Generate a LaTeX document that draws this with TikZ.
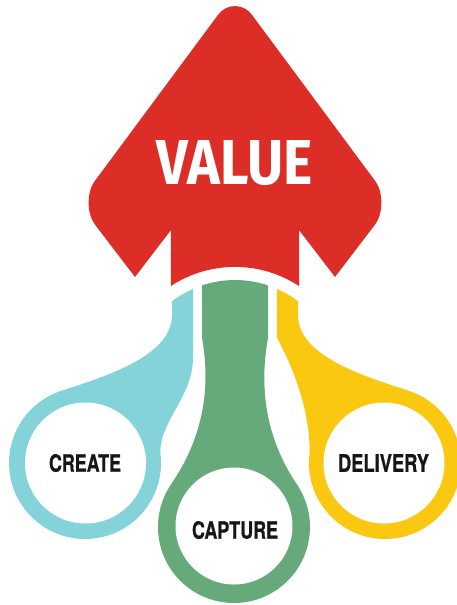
\documentclass[tikz,border=0pt]{standalone}
\usepackage{fontspec}
\usepackage{graphicx}
\newfontfamily\valuefont{Fira Sans}
\newfontfamily\labelfont{TeX Gyre Heros}[BoldFeatures={FakeBold=0.8}]
\definecolor{valred}{RGB}{221,45,39}
\definecolor{createcyan}{RGB}{132,211,217}
\definecolor{capturegreen}{RGB}{102,170,124}
\definecolor{deliveryyellow}{RGB}{250,200,16}
\definecolor{labelink}{RGB}{22,22,22}
\tikzset{
  hub/.style={fill=white},
  lbl/.style={inner sep=0pt, text=labelink},
}
\begin{document}
\begin{tikzpicture}[x=1pt,y=-1pt]
  \fill[white] (0,0) rectangle (456,605);
  \useasboundingbox (0,0) rectangle (456,605);

  % big arrow head with notched stem and concave base
  \fill[valred] (171,230) -- (135,277) -- (94.9,224.5)
    .. controls (86.7,213.7) and (86.5,192.2) .. (94.6,181.3)
    -- (218.3,14.5) .. controls (226.7,3.25) and (243.3,3.25) .. (251.7,14.5)
    -- (375.4,181.3) .. controls (383.5,192.2) and (383.3,213.7) .. (375.1,224.5)
    -- (335,277) -- (299,230) -- (299,286)
    arc[start angle=-56.8, end angle=-123.2, radius=117] -- cycle;

  % left stem and ring
  \fill[createcyan] (172,301.3) arc[start angle=-127.3, end angle=-113.8, radius=104]
    -- (193,357) .. controls (193,397) and (160.3,420) .. (160.3,452.4)
    arc[start angle=-8, end angle=253.2, radius=76]
    .. controls (110,375) and (172,355) .. (172,315) -- cycle;

  % right stem and ring
  \fill[deliveryyellow] (298,301.3) arc[start angle=-52.7, end angle=-66.2, radius=104]
    -- (277,338) .. controls (300,380) and (309.7,420) .. (309.7,452.4)
    arc[start angle=188, end angle=-73.2, radius=76]
    .. controls (360,375) and (298,355) .. (298,315) -- cycle;

  % middle stem and ring
  \fill[capturegreen] (202,285.4) arc[start angle=-108.5, end angle=-71.5, radius=104]
    -- (268,338) .. controls (255,410) and (279,458) .. (297.7,485.6)
    arc[start angle=-33, end angle=213, radius=76]
    .. controls (189,458) and (215,410) .. (202,338) -- cycle;

  % white hubs
  \fill[hub] (85.5,463) circle[radius=60.5];
  \fill[hub] (384,463) circle[radius=60.5];
  \fill[hub] (234,526) circle[radius=58.5];

  % labels
  \node[lbl, text=white] (value) at (235,163) {\resizebox{156pt}{44pt}{\valuefont\bfseries VALUE}};
  \node[lbl] (create) at (85,463) {\resizebox{72pt}{17.7pt}{\labelfont\bfseries CREATE}};
  \node[lbl] (capture) at (235,530) {\resizebox{86pt}{17.7pt}{\labelfont\bfseries CAPTURE}};
  \node[lbl] (delivery) at (383.5,463) {\resizebox{91pt}{17.7pt}{\labelfont\bfseries DELIVERY}};
\end{tikzpicture}
\end{document}
